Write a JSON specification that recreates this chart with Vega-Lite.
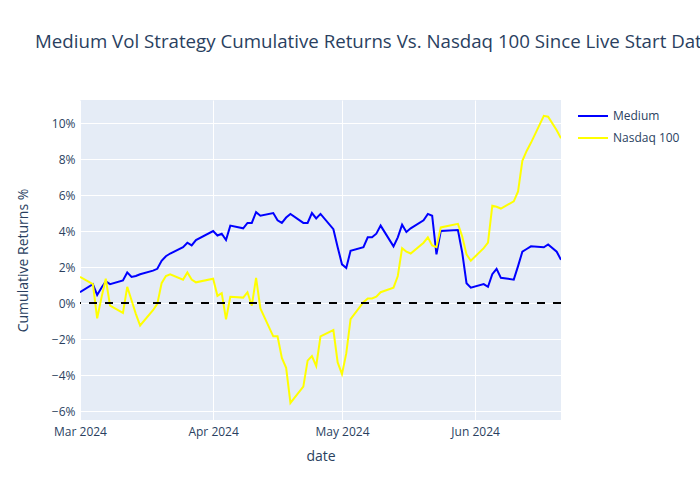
{
  "$schema": "https://vega.github.io/schema/vega-lite/v6.json",
  "width": 481,
  "height": 320,
  "autosize": {"type": "none"},
  "padding": {"left": 80, "top": 100, "right": 139, "bottom": 80},
  "background": "white",
  "title": {
    "text": "Medium Vol Strategy Cumulative Returns Vs. Nasdaq 100 Since Live Start Date",
    "anchor": "start",
    "frame": "group",
    "dx": -45,
    "offset": 48,
    "font": "Open Sans",
    "fontSize": 18.7,
    "fontWeight": "normal",
    "color": "#2a3f5f"
  },
  "config": {
    "view": {"fill": "#E5ECF6", "stroke": null},
    "axis": {
      "labelFont": "Open Sans",
      "titleFont": "Open Sans",
      "labelColor": "#2a3f5f",
      "titleColor": "#2a3f5f",
      "labelFontSize": 12,
      "titleFontSize": 14,
      "titleFontWeight": "normal",
      "gridColor": "white",
      "gridWidth": 1,
      "domain": false,
      "ticks": false,
      "labelOverlap": false,
      "labelFlush": false
    },
    "legend": {"labelFont": "Open Sans", "labelFontSize": 12, "labelColor": "#2a3f5f"}
  },
  "data": {
    "values": [
      {"date": "2024-03-01T00:00", "Medium": 0.6, "Nasdaq 100": 1.45},
      {"date": "2024-03-04T00:00", "Medium": 1.05, "Nasdaq 100": 1.05},
      {"date": "2024-03-05T00:00", "Medium": 0.45, "Nasdaq 100": -0.85},
      {"date": "2024-03-06T00:00", "Medium": 0.85, "Nasdaq 100": 0.3},
      {"date": "2024-03-07T00:00", "Medium": 1.2, "Nasdaq 100": 1.35},
      {"date": "2024-03-08T00:00", "Medium": 1.05, "Nasdaq 100": -0.15},
      {"date": "2024-03-11T00:00", "Medium": 1.25, "Nasdaq 100": -0.55},
      {"date": "2024-03-12T00:00", "Medium": 1.7, "Nasdaq 100": 0.9},
      {"date": "2024-03-13T00:00", "Medium": 1.45, "Nasdaq 100": 0.15},
      {"date": "2024-03-14T00:00", "Medium": 1.5, "Nasdaq 100": -0.6},
      {"date": "2024-03-15T00:00", "Medium": 1.6, "Nasdaq 100": -1.25},
      {"date": "2024-03-18T00:00", "Medium": 1.8, "Nasdaq 100": -0.4},
      {"date": "2024-03-19T00:00", "Medium": 1.9, "Nasdaq 100": -0.05},
      {"date": "2024-03-20T00:00", "Medium": 2.35, "Nasdaq 100": 1.1},
      {"date": "2024-03-21T00:00", "Medium": 2.6, "Nasdaq 100": 1.5},
      {"date": "2024-03-22T00:00", "Medium": 2.75, "Nasdaq 100": 1.6},
      {"date": "2024-03-25T00:00", "Medium": 3.1, "Nasdaq 100": 1.3},
      {"date": "2024-03-26T00:00", "Medium": 3.35, "Nasdaq 100": 1.7},
      {"date": "2024-03-27T00:00", "Medium": 3.2, "Nasdaq 100": 1.3},
      {"date": "2024-03-28T00:00", "Medium": 3.5, "Nasdaq 100": 1.15},
      {"date": "2024-04-01T00:00", "Medium": 4.0, "Nasdaq 100": 1.35},
      {"date": "2024-04-02T00:00", "Medium": 3.75, "Nasdaq 100": 0.4},
      {"date": "2024-04-03T00:00", "Medium": 3.85, "Nasdaq 100": 0.55},
      {"date": "2024-04-04T00:00", "Medium": 3.5, "Nasdaq 100": -0.9},
      {"date": "2024-04-05T00:00", "Medium": 4.3, "Nasdaq 100": 0.35},
      {"date": "2024-04-08T00:00", "Medium": 4.15, "Nasdaq 100": 0.3},
      {"date": "2024-04-09T00:00", "Medium": 4.45, "Nasdaq 100": 0.6},
      {"date": "2024-04-10T00:00", "Medium": 4.45, "Nasdaq 100": -0.15},
      {"date": "2024-04-11T00:00", "Medium": 5.05, "Nasdaq 100": 1.4},
      {"date": "2024-04-12T00:00", "Medium": 4.85, "Nasdaq 100": -0.3},
      {"date": "2024-04-15T00:00", "Medium": 5.0, "Nasdaq 100": -1.85},
      {"date": "2024-04-16T00:00", "Medium": 4.6, "Nasdaq 100": -1.85},
      {"date": "2024-04-17T00:00", "Medium": 4.45, "Nasdaq 100": -3.05},
      {"date": "2024-04-18T00:00", "Medium": 4.75, "Nasdaq 100": -3.6},
      {"date": "2024-04-19T00:00", "Medium": 4.95, "Nasdaq 100": -5.55},
      {"date": "2024-04-22T00:00", "Medium": 4.45, "Nasdaq 100": -4.65},
      {"date": "2024-04-23T00:00", "Medium": 4.45, "Nasdaq 100": -3.2},
      {"date": "2024-04-24T00:00", "Medium": 5.0, "Nasdaq 100": -2.95},
      {"date": "2024-04-25T00:00", "Medium": 4.7, "Nasdaq 100": -3.5},
      {"date": "2024-04-26T00:00", "Medium": 4.95, "Nasdaq 100": -1.85},
      {"date": "2024-04-29T00:00", "Medium": 4.1, "Nasdaq 100": -1.5},
      {"date": "2024-04-30T00:00", "Medium": 3.1, "Nasdaq 100": -3.3},
      {"date": "2024-05-01T00:00", "Medium": 2.15, "Nasdaq 100": -3.95},
      {"date": "2024-05-02T00:00", "Medium": 1.95, "Nasdaq 100": -2.8},
      {"date": "2024-05-03T00:00", "Medium": 2.9, "Nasdaq 100": -0.9},
      {"date": "2024-05-06T00:00", "Medium": 3.1, "Nasdaq 100": 0.05},
      {"date": "2024-05-07T00:00", "Medium": 3.65, "Nasdaq 100": 0.25},
      {"date": "2024-05-08T00:00", "Medium": 3.65, "Nasdaq 100": 0.25},
      {"date": "2024-05-09T00:00", "Medium": 3.85, "Nasdaq 100": 0.35},
      {"date": "2024-05-10T00:00", "Medium": 4.3, "Nasdaq 100": 0.6},
      {"date": "2024-05-13T00:00", "Medium": 3.15, "Nasdaq 100": 0.85},
      {"date": "2024-05-14T00:00", "Medium": 3.65, "Nasdaq 100": 1.5},
      {"date": "2024-05-15T00:00", "Medium": 4.35, "Nasdaq 100": 3.05},
      {"date": "2024-05-16T00:00", "Medium": 3.95, "Nasdaq 100": 2.85},
      {"date": "2024-05-17T00:00", "Medium": 4.15, "Nasdaq 100": 2.75},
      {"date": "2024-05-20T00:00", "Medium": 4.6, "Nasdaq 100": 3.35},
      {"date": "2024-05-21T00:00", "Medium": 4.95, "Nasdaq 100": 3.65},
      {"date": "2024-05-22T00:00", "Medium": 4.85, "Nasdaq 100": 3.2},
      {"date": "2024-05-23T00:00", "Medium": 2.7, "Nasdaq 100": 3.1},
      {"date": "2024-05-24T00:00", "Medium": 4.0, "Nasdaq 100": 4.2},
      {"date": "2024-05-28T00:00", "Medium": 4.05, "Nasdaq 100": 4.4},
      {"date": "2024-05-29T00:00", "Medium": 2.8, "Nasdaq 100": 3.7},
      {"date": "2024-05-30T00:00", "Medium": 1.1, "Nasdaq 100": 2.7},
      {"date": "2024-05-31T00:00", "Medium": 0.85, "Nasdaq 100": 2.35},
      {"date": "2024-06-03T00:00", "Medium": 1.05, "Nasdaq 100": 3.05},
      {"date": "2024-06-04T00:00", "Medium": 0.9, "Nasdaq 100": 3.35},
      {"date": "2024-06-05T00:00", "Medium": 1.6, "Nasdaq 100": 5.4},
      {"date": "2024-06-06T00:00", "Medium": 1.9, "Nasdaq 100": 5.35},
      {"date": "2024-06-07T00:00", "Medium": 1.4, "Nasdaq 100": 5.25},
      {"date": "2024-06-10T00:00", "Medium": 1.3, "Nasdaq 100": 5.65},
      {"date": "2024-06-11T00:00", "Medium": 2.05, "Nasdaq 100": 6.2},
      {"date": "2024-06-12T00:00", "Medium": 2.85, "Nasdaq 100": 7.9},
      {"date": "2024-06-13T00:00", "Medium": 3.0, "Nasdaq 100": 8.45},
      {"date": "2024-06-14T00:00", "Medium": 3.15, "Nasdaq 100": 8.9},
      {"date": "2024-06-17T00:00", "Medium": 3.1, "Nasdaq 100": 10.4},
      {"date": "2024-06-18T00:00", "Medium": 3.25, "Nasdaq 100": 10.35},
      {"date": "2024-06-20T00:00", "Medium": 2.85, "Nasdaq 100": 9.6},
      {"date": "2024-06-21T00:00", "Medium": 2.4, "Nasdaq 100": 9.15}
    ]
  },
  "layer": [
    {
      "transform": [
        {"fold": ["Medium", "Nasdaq 100"], "as": ["series", "pct"]}
      ],
      "mark": {"type": "line", "strokeWidth": 2, "clip": true},
      "encoding": {
        "x": {
          "field": "date",
          "type": "temporal",
          "title": "date",
          "scale": {"domain": [{"year": 2024, "month": 3, "date": 1}, {"year": 2024, "month": 6, "date": 21}]},
          "axis": {
            "format": "%b %Y",
            "values": [{"year": 2024, "month": 3, "date": 1}, {"year": 2024, "month": 4, "date": 1}, {"year": 2024, "month": 5, "date": 1}, {"year": 2024, "month": 6, "date": 1}],
            "labelPadding": 6,
            "titlePadding": 12
          }
        },
        "y": {
          "field": "pct",
          "type": "quantitative",
          "title": "Cumulative Returns %",
          "scale": {"domain": [-6.5, 11.28], "nice": false, "zero": false},
          "axis": {
            "values": [-6, -4, -2, 0, 2, 4, 6, 8, 10],
            "format": "d",
            "labelExpr": "replace(datum.label, '-', '−') + '%'",
            "labelOverlap": false,
            "labelPadding": 5,
            "titlePadding": 21
          }
        },
        "color": {
          "field": "series",
          "type": "nominal",
          "scale": {"domain": ["Medium", "Nasdaq 100"], "range": ["#0000ff", "#ffff00"]},
          "legend": {
            "title": null,
            "orient": "none",
            "legendX": 497,
            "legendY": 0,
            "symbolType": "stroke",
            "symbolStrokeWidth": 2,
            "symbolSize": 900,
            "rowPadding": -11,
            "labelOffset": 4
          }
        }
      }
    },
    {
      "data": {"values": [{"zero": 0}]},
      "mark": {"type": "rule", "color": "black", "strokeWidth": 2, "strokeDash": [8, 8]},
      "encoding": {
        "y": {
          "field": "zero",
          "type": "quantitative",
          "title": "Cumulative Returns %",
          "axis": {
            "values": [-6, -4, -2, 0, 2, 4, 6, 8, 10],
            "format": "d",
            "labelExpr": "replace(datum.label, '-', '−') + '%'",
            "labelOverlap": false,
            "labelPadding": 5,
            "titlePadding": 21
          }
        }
      }
    }
  ]
}
